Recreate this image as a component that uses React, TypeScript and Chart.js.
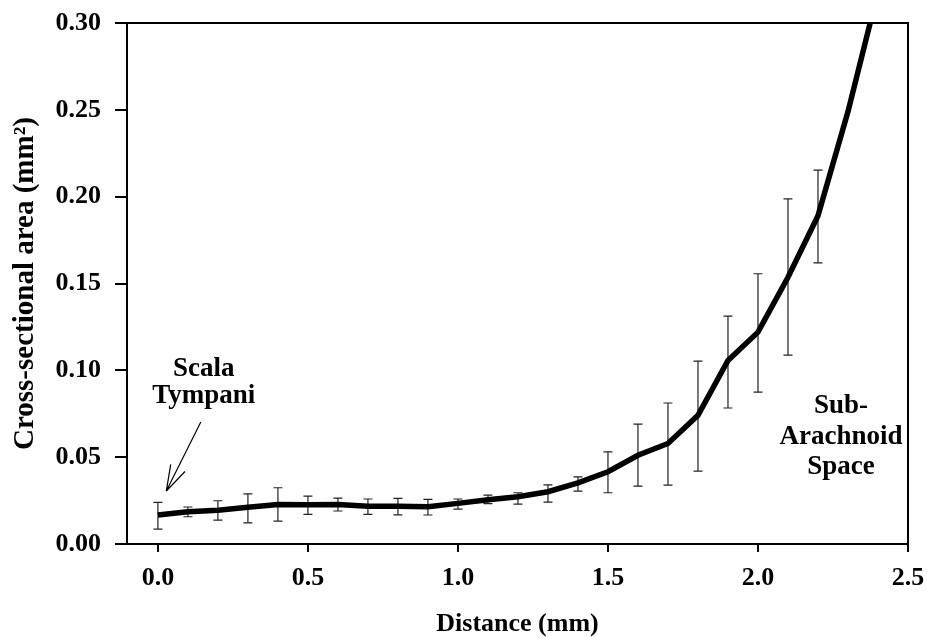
import React, { useEffect, useRef } from 'react';
import { Chart, registerables } from 'chart.js';

Chart.register(...registerables);

// ---- data ----
const distance = [0, 0.1, 0.2, 0.3, 0.4, 0.5, 0.6, 0.7, 0.8, 0.9, 1.0, 1.1, 1.2, 1.3, 1.4, 1.5, 1.6, 1.7, 1.8, 1.9, 2.0, 2.1, 2.2, 2.3, 2.4];
const area = [0.0167, 0.0186, 0.0195, 0.0211, 0.0228, 0.0226, 0.0228, 0.0218, 0.0218, 0.0214, 0.0234, 0.0255, 0.0272, 0.0301, 0.0352, 0.0416, 0.0511, 0.0579, 0.0741, 0.1057, 0.122, 0.1536, 0.189, 0.249, 0.318];
const errLow: (number | null)[] = [0.0086, 0.0157, 0.0138, 0.0122, 0.0132, 0.0171, 0.019, 0.0171, 0.0168, 0.0167, 0.0201, 0.0232, 0.023, 0.0241, 0.0305, 0.0295, 0.0333, 0.0339, 0.042, 0.0783, 0.0874, 0.1088, 0.1619, null, null];
const errHigh: (number | null)[] = [0.024, 0.0213, 0.0249, 0.0289, 0.0324, 0.0276, 0.0264, 0.0259, 0.0263, 0.0257, 0.0259, 0.0282, 0.0295, 0.0341, 0.0387, 0.053, 0.069, 0.0812, 0.1053, 0.1312, 0.1556, 0.1987, 0.2153, null, null];
const xTicks = [0, 0.5, 1.0, 1.5, 2.0, 2.5];
const yTicks = [0, 0.05, 0.1, 0.15, 0.2, 0.25, 0.3];
const xTitle = 'Distance (mm)';
const yTitle = 'Cross-sectional area (mm²)';
const leftLabel = ['Scala', 'Tympani'];
const rightLabel = ['Sub-', 'Arachnoid', 'Space'];

const FONT = '"Liberation Serif", "Times New Roman", Times, serif';

const boxPlugin = {
  id: 'box',
  afterDraw(chart: any) {
    const { ctx, chartArea } = chart;
    ctx.save();
    ctx.strokeStyle = '#000';
    ctx.lineWidth = 2;
    ctx.beginPath();
    ctx.moveTo(chartArea.left, chartArea.top);
    ctx.lineTo(chartArea.right, chartArea.top);
    ctx.lineTo(chartArea.right, chartArea.bottom);
    ctx.stroke();
    ctx.restore();
  },
};

const errorBarPlugin = {
  id: 'errorBars',
  beforeDatasetsDraw(chart: any) {
    const { ctx, scales } = chart;
    const xs = scales.x;
    const ys = scales.y;
    ctx.save();
    ctx.strokeStyle = '#222';
    ctx.lineWidth = 1.2;
    for (let i = 0; i < distance.length; i++) {
      const lo = errLow[i];
      const hi = errHigh[i];
      if (lo == null || hi == null) continue;
      const px = xs.getPixelForValue(distance[i]);
      const y1 = ys.getPixelForValue(lo);
      const y2 = ys.getPixelForValue(hi);
      ctx.beginPath();
      ctx.moveTo(px, y1);
      ctx.lineTo(px, y2);
      ctx.moveTo(px - 4.5, y1);
      ctx.lineTo(px + 4.5, y1);
      ctx.moveTo(px - 4.5, y2);
      ctx.lineTo(px + 4.5, y2);
      ctx.stroke();
    }
    ctx.restore();
  },
};

const annotationPlugin = {
  id: 'annotations',
  afterDraw(chart: any) {
    const { ctx, scales } = chart;
    const xs = scales.x;
    const ys = scales.y;
    ctx.save();
    ctx.fillStyle = '#000';
    ctx.font = `bold 27px ${FONT}`;
    ctx.textAlign = 'center';
    ctx.textBaseline = 'alphabetic';
    // Scala Tympani
    const lx = xs.getPixelForValue(0.153);
    ctx.fillText(leftLabel[0], lx, ys.getPixelForValue(0.097));
    ctx.fillText(leftLabel[1], lx, ys.getPixelForValue(0.081));
    // Sub-Arachnoid Space
    const rx = xs.getPixelForValue(2.277);
    ctx.fillText(rightLabel[0], rx, ys.getPixelForValue(0.0754));
    ctx.fillText(rightLabel[1], rx, ys.getPixelForValue(0.0578));
    ctx.fillText(rightLabel[2], rx, ys.getPixelForValue(0.0405));
    // arrow
    const ax0 = xs.getPixelForValue(0.143);
    const ay0 = ys.getPixelForValue(0.0702);
    const ax1 = xs.getPixelForValue(0.028);
    const ay1 = ys.getPixelForValue(0.0305);
    ctx.strokeStyle = '#000';
    ctx.lineWidth = 1.2;
    ctx.beginPath();
    ctx.moveTo(ax0, ay0);
    ctx.lineTo(ax1, ay1);
    const ang = Math.atan2(ay0 - ay1, ax0 - ax1);
    const len = 27;
    const spread = 0.3;
    ctx.moveTo(ax1, ay1);
    ctx.lineTo(ax1 + len * Math.cos(ang - spread), ay1 + len * Math.sin(ang - spread));
    ctx.moveTo(ax1, ay1);
    ctx.lineTo(ax1 + len * Math.cos(ang + spread), ay1 + len * Math.sin(ang + spread));
    ctx.stroke();
    ctx.restore();
  },
};

export default function App() {
  const ref = useRef<HTMLCanvasElement | null>(null);

  useEffect(() => {
    if (!ref.current) return;
    const chart = new Chart(ref.current, {
      type: 'line',
      data: {
        datasets: [
          {
            data: distance.map((d, i) => ({ x: d, y: area[i] })),
            borderColor: '#000',
            borderWidth: 5.5,
            pointRadius: 0,
            tension: 0,
            fill: false,
          },
        ],
      },
      options: {
        animation: false,
        responsive: false,
        devicePixelRatio: 1,
        layout: { padding: { top: 23, right: 19, left: 0, bottom: 0 } },
        plugins: { legend: { display: false }, tooltip: { enabled: false } },
        scales: {
          x: {
            type: 'linear',
            min: -0.103,
            max: 2.5,
            afterBuildTicks: (s: any) => {
              s.ticks = xTicks.map((v) => ({ value: v }));
            },
            afterFit: (s: any) => {
              s.height = 94;
              s.paddingLeft = 0;
              s.paddingRight = 0;
            },
            grid: { display: true, drawOnChartArea: false, drawTicks: true, tickLength: 8, color: '#000', lineWidth: 2 },
            border: { display: true, color: '#000', width: 2 },
            ticks: {
              color: '#000',
              padding: 11,
              maxRotation: 0,
              font: { family: FONT, size: 26, weight: 'bold' },
              callback: (v: any) => Number(v).toFixed(1),
            },
            title: {
              display: true,
              text: xTitle,
              color: '#000',
              font: { family: FONT, size: 26, weight: 'bold', lineHeight: 1 },
              padding: { top: 0, bottom: 1 },
            },
          },
          y: {
            type: 'linear',
            min: 0,
            max: 0.3,
            afterBuildTicks: (s: any) => {
              s.ticks = yTicks.map((v) => ({ value: v }));
            },
            afterFit: (s: any) => {
              s.width = 127;
              s.paddingTop = 0;
              s.paddingBottom = 0;
            },
            grid: { display: true, drawOnChartArea: false, drawTicks: true, tickLength: 12, color: '#000', lineWidth: 2 },
            border: { display: true, color: '#000', width: 2 },
            ticks: {
              color: '#000',
              padding: 14,
              font: { family: FONT, size: 26, weight: 'bold' },
              callback: (v: any) => Number(v).toFixed(2),
            },
            title: {
              display: true,
              text: yTitle,
              color: '#000',
              font: { family: FONT, size: 29, weight: 'bold', lineHeight: 1 },
              padding: { top: 11, bottom: 0 },
            },
          },
        },
      },
      plugins: [errorBarPlugin, boxPlugin, annotationPlugin],
    });
    return () => chart.destroy();
  }, []);

  return (
    <div style={{ position: 'absolute', left: 0, top: 0, width: 927, height: 638, background: '#fff' }}>
      <canvas ref={ref} width={927} height={638} style={{ display: 'block' }} />
    </div>
  );
}
